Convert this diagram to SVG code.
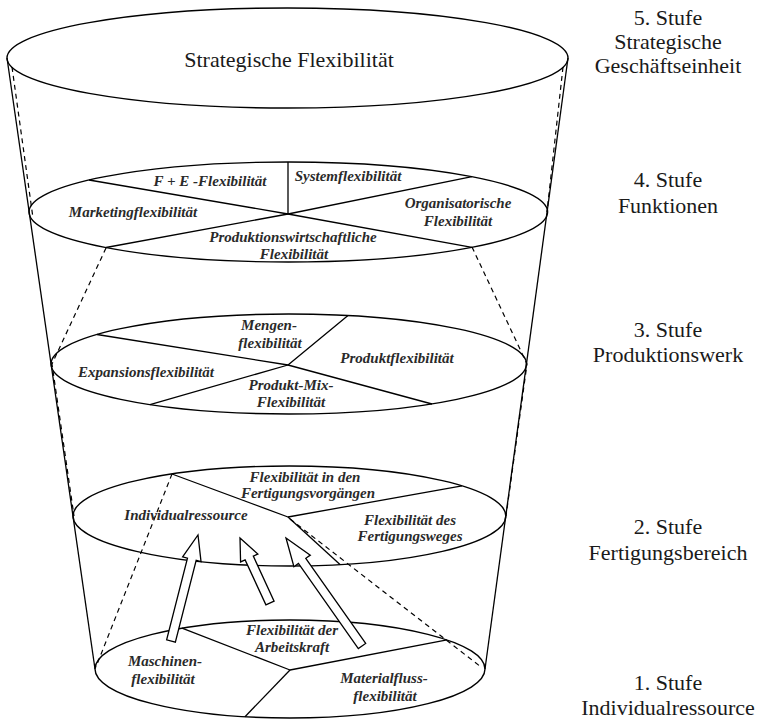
<svg xmlns="http://www.w3.org/2000/svg" width="761" height="719" viewBox="0 0 761 719">
<style>
.e{fill:none;stroke:#000;stroke-width:1.4}
.l{fill:none;stroke:#000;stroke-width:1.3;stroke-linejoin:round}
.d{fill:none;stroke:#000;stroke-width:1.2;stroke-dasharray:5 4}
.a{fill:#fff;stroke:#000;stroke-width:1.3;stroke-linejoin:miter}
.t{font-family:"Liberation Serif","Times New Roman",serif;font-size:15px;font-weight:bold;font-style:italic;fill:#2a2a2a;text-anchor:middle}
.r{font-family:"Liberation Serif","Times New Roman",serif;font-size:22px;fill:#1a1a1a;text-anchor:middle}
</style>
<rect width="761" height="719" fill="#fff"/>
<g id="connectors">
<line class="l" x1="7" y1="58" x2="95" y2="669"/>
<line class="l" x1="568" y1="58" x2="485" y2="669"/>
<line class="d" x1="12" y1="67" x2="33" y2="218"/>
<line class="d" x1="563" y1="67" x2="547" y2="212"/>
<polyline class="d" points="106,248 52,364 74,516"/>
<polyline class="d" points="472,247 527,364 506,516"/>
<line class="d" x1="172" y1="474" x2="96" y2="667"/>
<line class="d" x1="290" y1="519" x2="481" y2="667"/>
</g>
<g id="stufe5">
<ellipse class="e" cx="287.5" cy="58" rx="280.5" ry="50"/>
<text class="r" x="289" y="67">Strategische Flexibilität</text>
</g>
<g id="stufe4">
<ellipse class="e" cx="288.3" cy="212" rx="259.3" ry="50"/>
<line class="l" x1="288" y1="162" x2="288" y2="214"/>
<polyline class="l" points="89,180 288,214 472,247.4"/>
<polyline class="l" points="472,176.6 288,214 106,247.5"/>
<text class="t" x="210" y="186">F + E -Flexibilität</text>
<text class="t" x="348" y="181">Systemflexibilität</text>
<text class="t" x="133" y="217">Marketingflexibilität</text>
<text class="t" x="458" y="208">Organisatorische</text>
<text class="t" x="458" y="226">Flexibilität</text>
<text class="t" x="293" y="242">Produktionswirtschaftliche</text>
<text class="t" x="294" y="259">Flexibilität</text>
</g>
<g id="stufe3">
<ellipse class="e" cx="288.75" cy="364" rx="237.7" ry="50"/>
<polyline class="l" points="97,334.5 288,365 432,404"/>
<polyline class="l" points="348,315.6 288,365 150,404.6"/>
<text class="t" x="269" y="330">Mengen-</text>
<text class="t" x="270" y="348">flexibilität</text>
<text class="t" x="397" y="363">Produktflexibilität</text>
<text class="t" x="146" y="377">Expansionsflexibilität</text>
<text class="t" x="291" y="390">Produkt-Mix-</text>
<text class="t" x="291" y="407">Flexibilität</text>
</g>
<g id="stufe2">
<ellipse class="e" cx="289.4" cy="516" rx="216.4" ry="50"/>
<polyline class="l" points="172,474 288,517 462,485.8"/>
<line class="l" x1="288" y1="517" x2="340" y2="564.6"/>
<text class="t" x="305" y="482">Flexibilität in den</text>
<text class="t" x="308" y="498">Fertigungsvorgängen</text>
<text class="t" x="186" y="520">Individualressource</text>
<text class="t" x="410" y="525">Flexibilität des</text>
<text class="t" x="410" y="541">Fertigungsweges</text>
</g>
<g id="stufe1">
<ellipse class="e" cx="290" cy="669" rx="195" ry="49"/>
<polyline class="l" points="182,628.2 290,670 447,639.9"/>
<line class="l" x1="290" y1="670" x2="245" y2="716.7"/>
<text class="t" x="292" y="635">Flexibilität der</text>
<text class="t" x="292" y="652">Arbeitskraft</text>
<text class="t" x="165" y="666">Maschinen-</text>
<text class="t" x="163" y="684">flexibilität</text>
<text class="t" x="384" y="683">Materialfluss-</text>
<text class="t" x="385" y="701">flexibilität</text>
</g>
<g id="arrows">
<polygon class="a" points="198,535 201.04,561.56 196.19,560.33 175.36,642.11 166.64,639.89 187.47,558.11 182.62,556.88"/>
<polygon class="a" points="240,538 257.85,554 253.31,556.09 274.09,601.11 265.91,604.89 245.13,559.87 240.59,561.96"/>
<polygon class="a" points="286,538 310.29,555.14 305.79,558.31 365.68,643.41 358.32,648.59 298.43,563.49 293.93,566.66"/>
</g>
<g id="label5">
<text class="r" x="668" y="25">5. Stufe</text>
<text class="r" x="668" y="49">Strategische</text>
<text class="r" x="668" y="73">Geschäftseinheit</text>
</g>
<g id="label4">
<text class="r" x="668" y="187">4. Stufe</text>
<text class="r" x="668" y="213">Funktionen</text>
</g>
<g id="label3">
<text class="r" x="668" y="337">3. Stufe</text>
<text class="r" x="668" y="362">Produktionswerk</text>
</g>
<g id="label2">
<text class="r" x="668" y="534">2. Stufe</text>
<text class="r" x="668" y="560">Fertigungsbereich</text>
</g>
<g id="label1">
<text class="r" x="668" y="690">1. Stufe</text>
<text class="r" x="668" y="715">Individualressource</text>
</g>
</svg>
